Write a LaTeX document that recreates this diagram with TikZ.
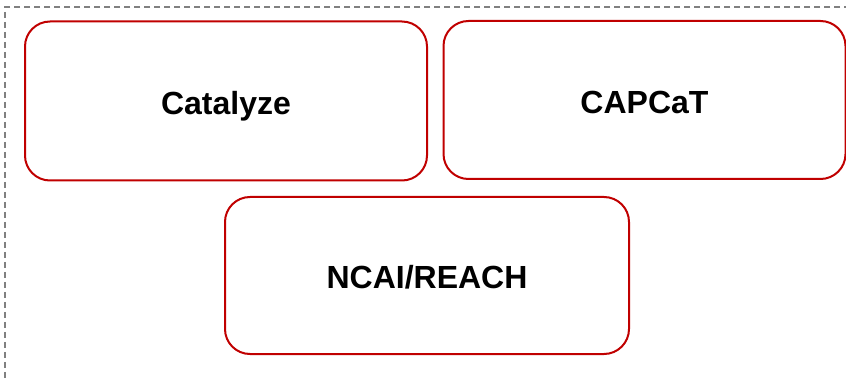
\documentclass[tikz,border=0pt]{standalone}
\usepackage{fontspec}
\setmainfont{Liberation Sans}
\usepackage{xcolor}
\usepackage{tikz}
\usetikzlibrary{positioning}
\definecolor{boxred}{HTML}{C00000}
\definecolor{framegray}{HTML}{808080}

\begin{document}
\begin{tikzpicture}[x=1pt,y=-1pt,
		projbox/.style={draw=boxred,line width=2pt,rounded corners=25pt,
			minimum width=402pt,minimum height=159pt,inner sep=0pt,
			text height=27pt,text depth=0pt,
			font=\fontsize{32}{36}\selectfont\bfseries}]
		\useasboundingbox (0,0) rectangle (846,379);
		\draw[framegray,line width=2pt,dash pattern=on 6.5pt off 3.5pt] (860,7) -- (4.8,7) -- (4.8,390);
		\node[projbox] (catalyze) at (226,101) {Catalyze};
		\node[projbox,minimum height=158pt] (capcat) at (644.5,100) {CAPCaT};
		\node[projbox,minimum width=404pt,minimum height=157pt] (ncai) at (427,275.5) {NCAI/REACH};
	\end{tikzpicture}
\end{document}
